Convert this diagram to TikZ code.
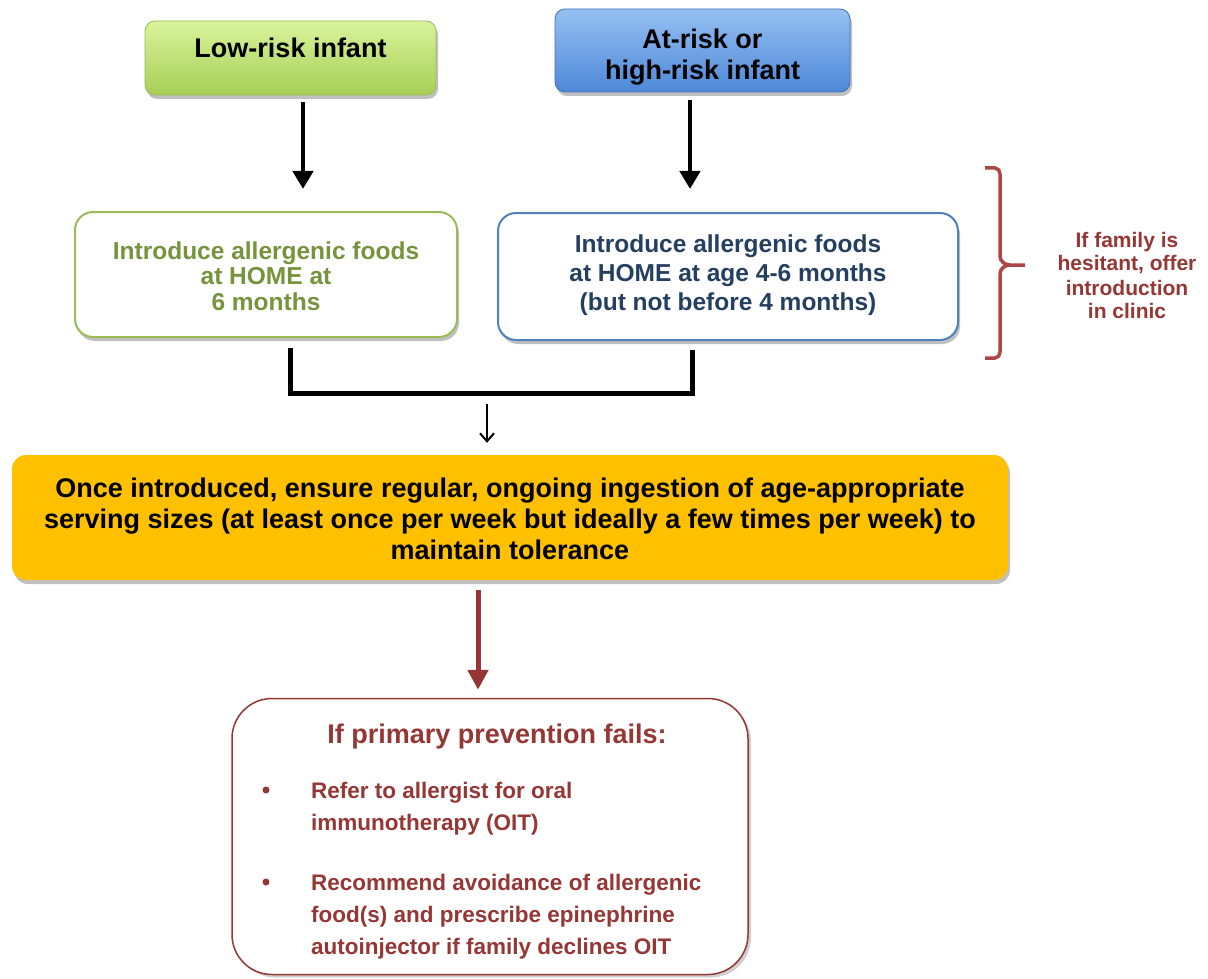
\documentclass[tikz,border=0pt]{standalone}
\usepackage{fontspec}
\setmainfont{Liberation Sans}
\usetikzlibrary{shadows,calc,arrows.meta}
\definecolor{lowtop}{HTML}{D9F49C}
\definecolor{lowbot}{HTML}{A6CE55}
\definecolor{lowline}{HTML}{9BBB59}
\definecolor{hitop}{HTML}{95C0F2}
\definecolor{hibot}{HTML}{4E88D8}
\definecolor{hiline}{HTML}{3F73B8}
\definecolor{greentext}{HTML}{77933C}
\definecolor{bluetext}{HTML}{243F60}
\definecolor{blueline}{HTML}{4F81BD}
\definecolor{gold}{HTML}{FFC000}
\definecolor{darkred}{HTML}{953735}
\definecolor{bracered}{HTML}{AD4646}
\definecolor{arrowred}{HTML}{943634}
\newcommand{\fsz}[2]{\fontsize{#1}{#2}\selectfont\bfseries}
\newcommand{\mlines}[1]{\begin{tabular}[t]{@{}c@{}}#1\end{tabular}}
\tikzset{
  shad/.style={drop shadow={shadow xshift=2pt,shadow yshift=-4pt,opacity=0.35,fill=black!70}},
  topbox/.style={rounded corners=10pt,draw,line width=0.8pt,shad,inner sep=0pt,text height=0pt},
  introbox/.style={rounded corners=18pt,draw,line width=2pt,fill=white,shad,inner sep=0pt,text height=0pt},
  blkarrow/.style={line width=4.5pt,black,-{Triangle[length=18pt,width=20pt]}},
  bracket/.style={line width=5pt,black},
  thinarrow/.style={line width=2pt,black,-{Straight Barb[length=8pt,width=14pt]}},
  redarrow/.style={line width=5pt,arrowred,-{Triangle[length=20pt,width=20pt]}},
  failtext/.style={darkred,anchor=base west,inner sep=0pt,font=\fsz{22.5}{27}},
  bulletdot/.style={circle,fill=darkred,inner sep=0pt,minimum size=7pt},
}
\begin{document}
\begin{tikzpicture}[x=1pt,y=-1pt]
\useasboundingbox (0,0) rectangle (1208,979);
\fill[white] (0,0) rectangle (1208,979);

% top boxes (first baseline placed via text depth = 2*(center - baseline))
\node[topbox,draw=lowline,top color=lowtop,bottom color=lowbot,
      minimum width=291pt,minimum height=74pt,font=\fsz{27}{28},
      text depth=1pt] (low) at (290.5,58) {\mlines{Low-risk infant}};
\node[topbox,draw=hiline,top color=hitop,bottom color=hibot,
      minimum width=295pt,minimum height=83pt,font=\fsz{27}{31},
      text depth=3pt] (hi) at (702.5,50.5)
      {\mlines{At-risk or\\high-risk infant}};

% introduce boxes
\node[introbox,draw=lowline,text=greentext,minimum width=382pt,minimum height=125pt,
      font=\fsz{24.5}{25.5},text depth=31pt] (intro1) at (266,274.5)
      {\mlines{Introduce allergenic foods\\at HOME at\\6 months}};
\node[introbox,draw=blueline,text=bluetext,minimum width=460pt,minimum height=127pt,
      font=\fsz{24.5}{29},text depth=47.5pt] (intro2) at (728,276.5)
      {\mlines{Introduce allergenic foods\\at HOME at age 4-6 months\\(but not before 4 months)}};

\draw[blkarrow] ($(low.south)+(12.5,7)$) -- ($(intro1.north)+(37,-22)$);
\draw[blkarrow] ($(hi.south)+(-12.5,8)$) -- ($(intro2.north)+(-38,-23)$);

% brace and side note
\draw[bracered,line width=3.5pt,line join=round]
  (985,168) -- (995,168) to[out=0,in=90] (1000,174) -- (1000,256)
  to[out=-90,in=180] (1010,265) -- (1025,265);
\draw[bracered,line width=3.5pt,line join=round]
  (1010,265) to[out=180,in=90] (1000,274) -- (1000,352)
  to[out=-90,in=0] (995,358) -- (985,358);
\node[darkred,anchor=base,inner sep=0pt,font=\fsz{21}{24}] (note) at (1127,247)
  {\mlines{If family is\\hesitant, offer\\introduction\\in clinic}};

% orange box
\node[rounded corners=14pt,fill=gold,shad,inner sep=0pt,text height=0pt,text depth=39.8pt,
      minimum width=996pt,minimum height=125pt,font=\fsz{27}{31}] (once) at (510,517.5)
  {\mlines{Once introduced, ensure regular, ongoing ingestion of age-appropriate\\
   serving sizes (at least once per week but ideally a few times per week) to\\
   maintain tolerance}};

\draw[bracket] ($(intro1.south)+(24,10)$) -- ++(0,45) -| ($(intro2.south)+(-36,9)$);
\draw[thinarrow] ($(once.north)+(-23,-51)$) -- ($(once.north)+(-23,-12)$);

% failure box
\node[rounded corners=40pt,draw=darkred,line width=1.5pt,fill=white,
      drop shadow={shadow xshift=3pt,shadow yshift=-3pt,opacity=0.3,fill=black!60},
      minimum width=516pt,minimum height=276pt,inner sep=0pt] (fail) at (490,836.5) {};
\draw[redarrow] ($(once.south)+(-32,10)$) -- ($(fail.north)+(-12,-8)$);

\node[darkred,anchor=base,inner sep=0pt,font=\fsz{27}{32}] (failtitle) at (497,743)
  {If primary prevention fails:};
\node[bulletdot] (b1) at (266,790) {};
\node[bulletdot] (b2) at (266,882) {};
\node[failtext] (l1) at (311,798) {Refer to allergist for oral};
\node[failtext] (l2) at (311,830) {immunotherapy (OIT)};
\node[failtext] (l3) at (311,890) {Recommend avoidance of allergenic};
\node[failtext] (l4) at (311,922) {food(s) and prescribe epinephrine};
\node[failtext] (l5) at (311,954) {autoinjector if family declines OIT};
\end{tikzpicture}
\end{document}
